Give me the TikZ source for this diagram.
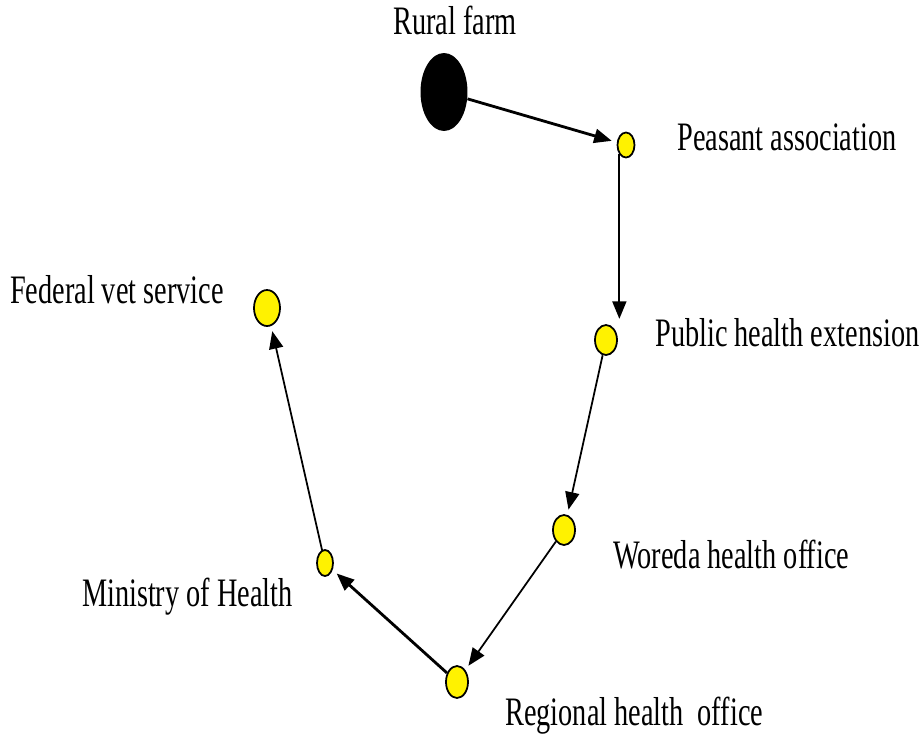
\documentclass[tikz,border=0pt]{standalone}
\usepackage{fontspec}
\newfontfamily\lblfont[FakeStretch=0.7]{Liberation Serif}
\usetikzlibrary{arrows.meta,shapes.geometric}

\begin{document}
\begin{tikzpicture} [
    x=0.02cm, y=-0.02cm,
    stop/.style     = { ellipse, draw=black, line width=1pt, fill=yellow,
                        inner sep=0pt },
    lbl/.style      = { draw=none, font=\lblfont\fontsize{23}{25}\selectfont,
                        inner sep=0pt },
    line/.style     = { draw, line width=1pt, shorten >=3pt,
                        -{Triangle[length=10pt,width=8pt]} },
    bold line/.style= { line, line width=1.6pt },
  ]
  \useasboundingbox (0,0) rectangle (921,738);

  % the stops
  \node[ellipse, fill=black, inner sep=0pt, minimum width=0.94cm, minimum height=1.56cm] (farm) at (444,92) {};
  \node[stop, minimum width=0.34cm, minimum height=0.5cm] (peasant) at (626,145) {};
  \node[stop, minimum width=0.44cm, minimum height=0.6cm] (extension) at (606,340) {};
  \node[stop, minimum width=0.44cm, minimum height=0.6cm] (woreda) at (564,530) {};
  \node[stop, minimum width=0.44cm, minimum height=0.64cm] (regional) at (457,682) {};
  \node[stop, minimum width=0.32cm, minimum height=0.52cm] (ministry) at (325,563) {};
  \node[stop, minimum width=0.52cm, minimum height=0.72cm] (federal) at (267,308) {};

  % the labels
  \node[lbl] (farmtext) at (455,20) {Rural farm};
  \node[lbl, anchor=west] (peasanttext) at (677,137) {Peasant association};
  \node[lbl, anchor=west] (extensiontext) at (655,333) {Public health extension};
  \node[lbl, anchor=west] (woredatext) at (613,555) {Woreda health office};
  \node[lbl, anchor=west] (regionaltext) at (505,716) {Regional health\ \ office};
  \node[lbl, anchor=east] (ministrytext) at (293,597) {Ministry of Health};
  \node[lbl, anchor=east] (federaltext) at (224,290) {Federal vet service};

  % connect the stops
  \path [bold line] (farm) -- (peasant);
  \path [line] (peasant.south west) -- (peasant.south west |- extension.north);
  \path [line] (extension) -- (woreda);
  \path [line] (woreda) -- (regional);
  \path [bold line] (regional) -- (ministry);
  \path [line] (ministry) -- (federal);
\end{tikzpicture}
\end{document}
